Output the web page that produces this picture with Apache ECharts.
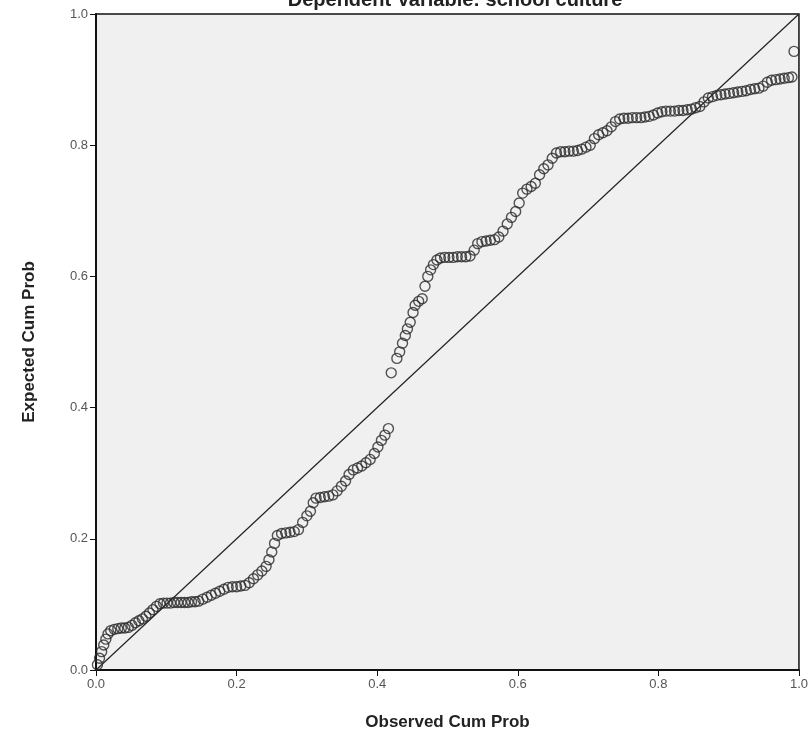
<!DOCTYPE html>
<html>
<head>
<meta charset="utf-8">
<script src="https://cdn.jsdelivr.net/npm/echarts@6/dist/echarts.min.js"></script>
<style>
  html, body { margin: 0; padding: 0; background: #fff; }
  #chart-panel { width: 811px; height: 751px; }
</style>
</head>
<body>
<div id="chart-panel"></div>
<script>
// observed cumulative probability (x) and expected cumulative probability (y)
var observed = [
  0.002, 0.005, 0.008, 0.011, 0.014, 0.017, 0.021, 0.026, 0.031, 0.036,
  0.041, 0.046, 0.051, 0.056, 0.061, 0.066, 0.071, 0.076, 0.081, 0.086,
  0.091, 0.096, 0.101, 0.106, 0.111, 0.116, 0.121, 0.126, 0.131, 0.136,
  0.141, 0.146, 0.152, 0.158, 0.164, 0.170, 0.176, 0.182, 0.188, 0.194,
  0.200, 0.206, 0.212, 0.218, 0.224, 0.230, 0.236, 0.242, 0.246, 0.250,
  0.254, 0.258, 0.264, 0.270, 0.276, 0.282, 0.288, 0.294, 0.300, 0.305,
  0.309, 0.313, 0.319, 0.325, 0.331, 0.337, 0.343, 0.349, 0.355, 0.360,
  0.366, 0.372, 0.378, 0.384, 0.390, 0.396, 0.401, 0.406, 0.411, 0.416,
  0.420, 0.428, 0.432, 0.436, 0.440, 0.443, 0.447, 0.451, 0.454, 0.459,
  0.464, 0.468, 0.472, 0.476, 0.480, 0.485, 0.490, 0.496, 0.502, 0.508,
  0.514, 0.520, 0.526, 0.532, 0.538, 0.543, 0.549, 0.555, 0.561, 0.567,
  0.573, 0.579, 0.585, 0.591, 0.597, 0.602, 0.607, 0.613, 0.619, 0.625,
  0.631, 0.637, 0.643, 0.649, 0.655, 0.661, 0.667, 0.673, 0.679, 0.685,
  0.691, 0.697, 0.703, 0.709, 0.715, 0.721, 0.727, 0.733, 0.739, 0.745,
  0.751, 0.757, 0.763, 0.769, 0.775, 0.781, 0.787, 0.793, 0.799, 0.805,
  0.811, 0.817, 0.823, 0.829, 0.835, 0.841, 0.847, 0.853, 0.859, 0.865,
  0.871, 0.877, 0.883, 0.889, 0.895, 0.901, 0.907, 0.913, 0.919, 0.925,
  0.931, 0.937, 0.943, 0.949, 0.955, 0.961, 0.967, 0.973, 0.979, 0.985,
  0.990, 0.993
];
var expected = [
  0.008, 0.018, 0.028, 0.038, 0.047, 0.055, 0.060, 0.062, 0.063, 0.064,
  0.064, 0.065, 0.068, 0.072, 0.075, 0.078, 0.082, 0.087, 0.092, 0.097,
  0.101, 0.102, 0.102, 0.102, 0.103, 0.103, 0.103, 0.103, 0.103, 0.104,
  0.104, 0.105, 0.108, 0.111, 0.114, 0.117, 0.120, 0.123, 0.126, 0.127,
  0.127, 0.128, 0.129, 0.133, 0.139, 0.145, 0.151, 0.158, 0.168, 0.180,
  0.193, 0.205, 0.208, 0.209, 0.210, 0.211, 0.214, 0.225, 0.235, 0.242,
  0.255, 0.262, 0.263, 0.264, 0.265, 0.267, 0.273, 0.280, 0.288, 0.298,
  0.305, 0.308, 0.311, 0.316, 0.321, 0.330, 0.340, 0.350, 0.358, 0.368,
  0.453, 0.475, 0.485, 0.498, 0.510, 0.520, 0.530, 0.545, 0.556, 0.562,
  0.566, 0.585, 0.600, 0.610, 0.618, 0.625, 0.628, 0.629, 0.629, 0.629,
  0.630, 0.630, 0.630, 0.631, 0.640, 0.650, 0.653, 0.654, 0.655, 0.656,
  0.660, 0.669, 0.680, 0.690, 0.699, 0.712, 0.727, 0.733, 0.737, 0.742,
  0.755, 0.764, 0.770, 0.780, 0.788, 0.790, 0.790, 0.791, 0.791, 0.792,
  0.794, 0.797, 0.800, 0.810, 0.816, 0.819, 0.822, 0.828, 0.836, 0.840,
  0.841, 0.841, 0.842, 0.842, 0.842, 0.843, 0.844, 0.846, 0.849, 0.851,
  0.852, 0.852, 0.852, 0.853, 0.853, 0.854, 0.855, 0.857, 0.859, 0.866,
  0.872, 0.874, 0.876, 0.877, 0.878, 0.879, 0.880, 0.881, 0.882, 0.883,
  0.885, 0.886, 0.887, 0.890, 0.896, 0.899, 0.900, 0.901, 0.902, 0.903,
  0.904, 0.943
];
// reference diagonal (observed = expected)
var refLine = [[0, 0], [1, 1]];

var myChart = echarts.init(document.getElementById('chart-panel'));

var points = [];
for (var i = 0; i < observed.length; i++) {
  points.push([observed[i], expected[i]]);
}

var axisText = { color: '#555', fontSize: 13, fontFamily: 'Liberation Sans, Arial' };

option = {
  animation: false,
  backgroundColor: '#fff',
  title: {
    text: 'Dependent Variable: school culture',
    left: 450,
    textAlign: 'center',
    top: -15,
    textStyle: { fontSize: 20, fontWeight: 'bold', color: '#222', fontFamily: 'Liberation Sans, Arial' }
  },
  grid: {
    left: 96, right: 11, top: 14, bottom: 81,
    show: true,
    backgroundColor: '#f0f0f0',
    borderColor: '#111',
    borderWidth: 1.5
  },
  xAxis: {
    type: 'value',
    min: 0, max: 1, interval: 0.2,
    name: 'Observed Cum Prob',
    nameLocation: 'middle',
    nameGap: 44,
    nameTextStyle: { fontSize: 17, fontWeight: 'bold', color: '#222', fontFamily: 'Liberation Sans, Arial' },
    axisLine: { show: true, lineStyle: { color: '#111', width: 2 } },
    axisTick: { show: true, length: 6, lineStyle: { color: '#111' } },
    splitLine: { show: false },
    axisLabel: Object.assign({ margin: 8, formatter: function (v) { return v.toFixed(1); } }, axisText)
  },
  yAxis: {
    type: 'value',
    min: 0, max: 1, interval: 0.2,
    name: 'Expected Cum Prob',
    nameLocation: 'middle',
    nameGap: 58,
    nameTextStyle: { fontSize: 17, fontWeight: 'bold', color: '#222', fontFamily: 'Liberation Sans, Arial' },
    axisLine: { show: true, lineStyle: { color: '#111', width: 2 } },
    axisTick: { show: true, length: 6, lineStyle: { color: '#111' } },
    splitLine: { show: false },
    axisLabel: Object.assign({ margin: 8, formatter: function (v) { return v.toFixed(1); } }, axisText)
  },
  series: [
    {
      type: 'line',
      data: refLine,
      symbol: 'none',
      lineStyle: { color: '#222', width: 1.2 },
      z: 2
    },
    {
      type: 'scatter',
      data: points,
      symbol: 'circle',
      symbolSize: 10,
      itemStyle: { color: 'rgba(0,0,0,0)', borderColor: '#2a2a2a', borderWidth: 1.4 },
      z: 3
    }
  ]
};

myChart.setOption(option);
</script>
</body>
</html>
